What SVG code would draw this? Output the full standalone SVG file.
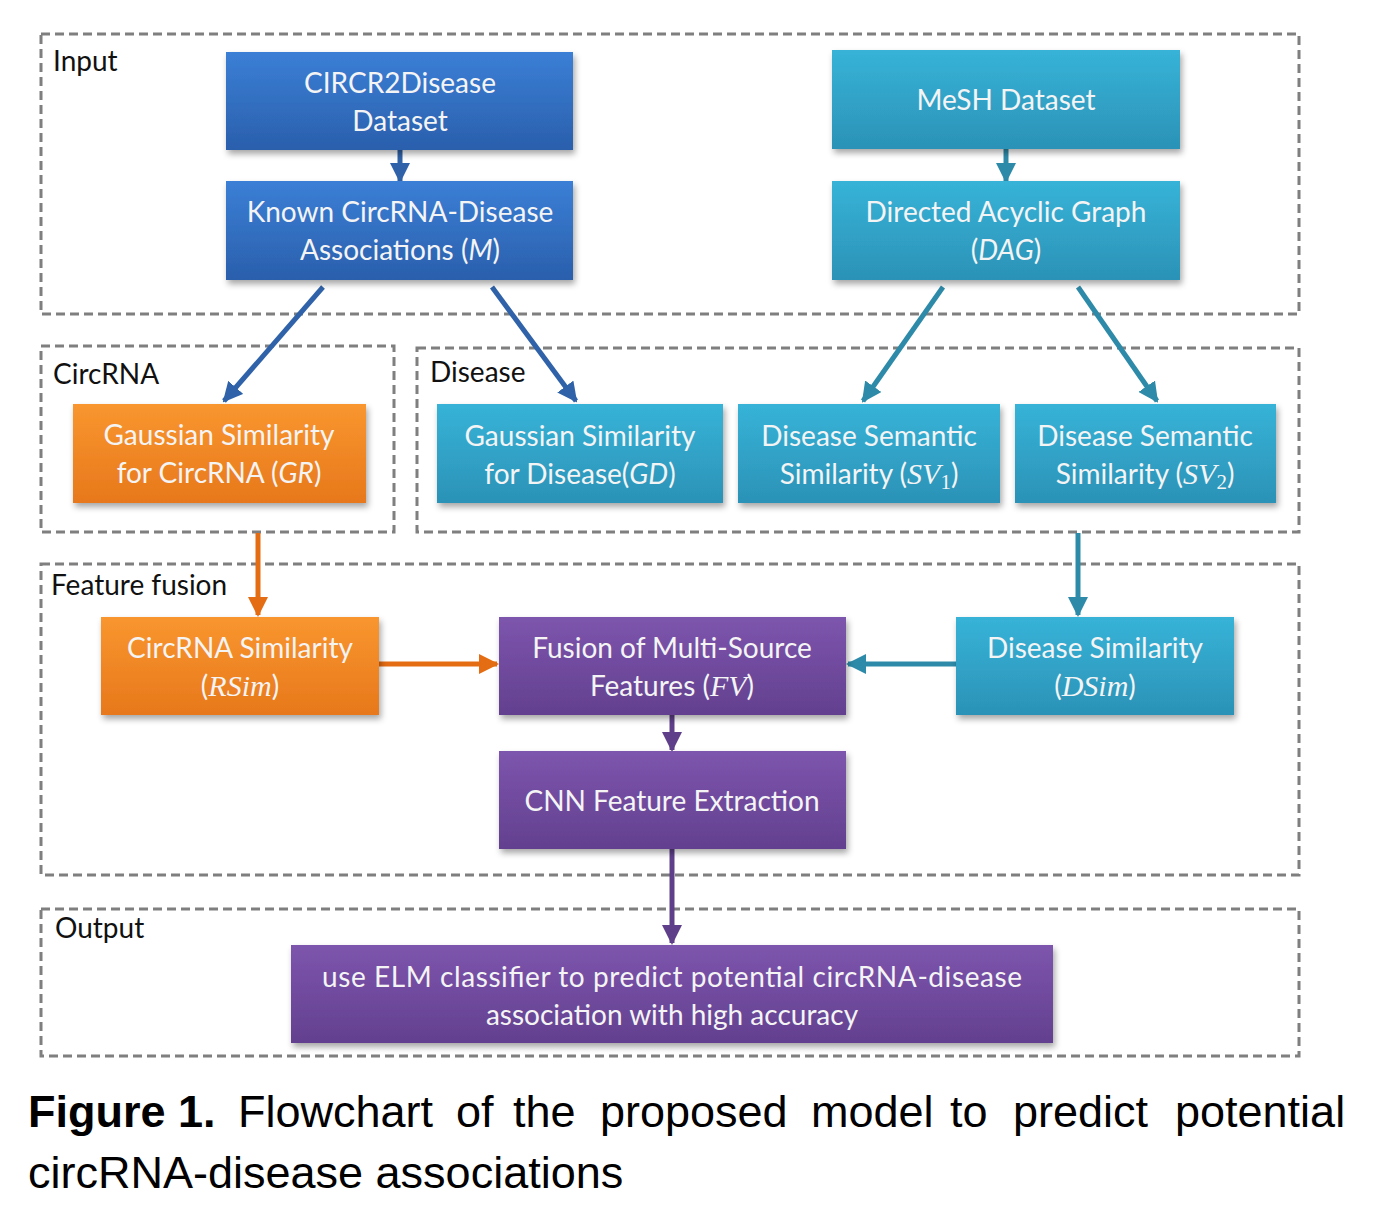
<svg xmlns="http://www.w3.org/2000/svg" width="1374" height="1214" viewBox="0 0 1374 1214">
<defs>
<linearGradient id="gBlue" x1="0" y1="0" x2="0" y2="1"><stop offset="0" stop-color="#3b7fd6"/><stop offset="1" stop-color="#2a5fac"/></linearGradient>
<linearGradient id="gTeal" x1="0" y1="0" x2="0" y2="1"><stop offset="0" stop-color="#37b3d8"/><stop offset="1" stop-color="#2b92b6"/></linearGradient>
<linearGradient id="gOrange" x1="0" y1="0" x2="0" y2="1"><stop offset="0" stop-color="#f9962f"/><stop offset="1" stop-color="#e7781b"/></linearGradient>
<linearGradient id="gPurple" x1="0" y1="0" x2="0" y2="1"><stop offset="0" stop-color="#7d55ad"/><stop offset="1" stop-color="#63408f"/></linearGradient>
<filter id="sh" x="-10%" y="-10%" width="120%" height="130%"><feDropShadow dx="2" dy="4" stdDeviation="3" flood-color="#000" flood-opacity="0.35"/></filter>
<marker id="aBlue" viewBox="0 0 10 10" refX="9" refY="5" markerWidth="4" markerHeight="4" orient="auto" markerUnits="strokeWidth"><path d="M0,0 L10,5 L0,10 z" fill="#2f62a8"/></marker>
<marker id="aTeal" viewBox="0 0 10 10" refX="9" refY="5" markerWidth="4" markerHeight="4" orient="auto" markerUnits="strokeWidth"><path d="M0,0 L10,5 L0,10 z" fill="#2d8aa8"/></marker>
<marker id="aOrange" viewBox="0 0 10 10" refX="9" refY="5" markerWidth="4" markerHeight="4" orient="auto" markerUnits="strokeWidth"><path d="M0,0 L10,5 L0,10 z" fill="#e46c13"/></marker>
<marker id="aPurple" viewBox="0 0 10 10" refX="9" refY="5" markerWidth="4" markerHeight="4" orient="auto" markerUnits="strokeWidth"><path d="M0,0 L10,5 L0,10 z" fill="#5f3f8a"/></marker>
</defs>
<style>
.grp{fill:none;stroke:#7f7f7f;stroke-width:3;stroke-dasharray:9,5}
.glab{font-family:Lato,"Open Sans",sans-serif;font-size:28px;fill:#111}
.nt{font-family:Lato,"Open Sans",sans-serif;font-size:28px;fill:#f4f4f4;text-anchor:middle}
.it{font-style:italic}
.m{font-family:"Liberation Serif",serif;font-style:italic;font-size:30px}
.c{stroke-width:5;fill:none}
.cap{font-family:"Liberation Sans",Arial,sans-serif;font-size:45px;fill:#000}
</style>
<rect width="1374" height="1214" fill="#fff"/>
<g id="groups">
<rect class="grp" x="41" y="34" width="1258" height="280"/>
<rect class="grp" x="41" y="346" width="353" height="186"/>
<rect class="grp" x="417" y="348" width="882" height="184"/>
<rect class="grp" x="41" y="564" width="1258" height="311"/>
<rect class="grp" x="41" y="909" width="1258" height="147"/>
<text class="glab" x="53" y="71">Input</text>
<text class="glab" x="53" y="384">CircRNA</text>
<text class="glab" x="430" y="382">Disease</text>
<text class="glab" x="51" y="595">Feature fusion</text>
<text class="glab" x="55" y="938">Output</text>
</g>
<g id="connectors">
<line class="c" x1="400" y1="150" x2="400" y2="181" stroke="#2f62a8" marker-end="url(#aBlue)"/>
<line class="c" x1="323" y1="287" x2="224" y2="401" stroke="#2f62a8" marker-end="url(#aBlue)"/>
<line class="c" x1="492" y1="287" x2="576" y2="401" stroke="#2f62a8" marker-end="url(#aBlue)"/>
<line class="c" x1="1006" y1="149" x2="1006" y2="181" stroke="#2d8aa8" marker-end="url(#aTeal)"/>
<line class="c" x1="943" y1="287" x2="863" y2="401" stroke="#2d8aa8" marker-end="url(#aTeal)"/>
<line class="c" x1="1078" y1="287" x2="1157" y2="401" stroke="#2d8aa8" marker-end="url(#aTeal)"/>
<line class="c" x1="258" y1="533" x2="258" y2="615" stroke="#e46c13" stroke-width="7" marker-end="url(#aOrange)"/>
<line class="c" x1="1078" y1="533" x2="1078" y2="615" stroke="#2d8aa8" stroke-width="7" marker-end="url(#aTeal)"/>
<line class="c" x1="379" y1="664" x2="497" y2="664" stroke="#e46c13" marker-end="url(#aOrange)"/>
<line class="c" x1="956" y1="664" x2="848" y2="664" stroke="#2d8aa8" marker-end="url(#aTeal)"/>
<line class="c" x1="672" y1="715" x2="672" y2="750" stroke="#5f3f8a" marker-end="url(#aPurple)"/>
<line class="c" x1="672" y1="849" x2="672" y2="943" stroke="#5f3f8a" marker-end="url(#aPurple)"/>
</g>
<g id="n-circr2disease"><rect x="226" y="52" width="347" height="98" fill="url(#gBlue)" filter="url(#sh)"/><text class="nt" x="400" y="93">CIRCR2Disease</text><text class="nt" x="400" y="131">Dataset</text></g>
<g id="n-known"><rect x="226" y="181" width="347" height="99" fill="url(#gBlue)" filter="url(#sh)"/><text class="nt" x="400" y="222">Known CircRNA-Disease</text><text class="nt" x="400" y="260">Associations (<tspan class="it">M</tspan>)</text></g>
<g id="n-mesh"><rect x="832" y="50" width="348" height="99" fill="url(#gTeal)" filter="url(#sh)"/><text class="nt" x="1006" y="110">MeSH Dataset</text></g>
<g id="n-dag"><rect x="832" y="181" width="348" height="99" fill="url(#gTeal)" filter="url(#sh)"/><text class="nt" x="1006" y="222">Directed Acyclic Graph</text><text class="nt" x="1006" y="260">(<tspan class="it">DAG</tspan>)</text></g>
<g id="n-gr"><rect x="73" y="404" width="293" height="99" fill="url(#gOrange)" filter="url(#sh)"/><text class="nt" x="219" y="445">Gaussian Similarity</text><text class="nt" x="219" y="483">for CircRNA (<tspan class="it">GR</tspan>)</text></g>
<g id="n-gd"><rect x="437" y="404" width="286" height="99" fill="url(#gTeal)" filter="url(#sh)"/><text class="nt" x="580" y="446">Gaussian Similarity</text><text class="nt" x="580" y="484">for Disease(<tspan class="it">GD</tspan>)</text></g>
<g id="n-sv1"><rect x="738" y="404" width="262" height="99" fill="url(#gTeal)" filter="url(#sh)"/><text class="nt" x="869" y="446">Disease Semantic</text><text class="nt" x="869" y="484">Similarity (<tspan class="m">SV</tspan><tspan font-family="Liberation Serif,serif" font-size="21" dy="5">1</tspan><tspan dy="-5">)</tspan></text></g>
<g id="n-sv2"><rect x="1015" y="404" width="261" height="99" fill="url(#gTeal)" filter="url(#sh)"/><text class="nt" x="1145" y="446">Disease Semantic</text><text class="nt" x="1145" y="484">Similarity (<tspan class="m">SV</tspan><tspan font-family="Liberation Serif,serif" font-size="21" dy="5">2</tspan><tspan dy="-5">)</tspan></text></g>
<g id="n-rsim"><rect x="101" y="617" width="278" height="98" fill="url(#gOrange)" filter="url(#sh)"/><text class="nt" x="240" y="658">CircRNA Similarity</text><text class="nt" x="240" y="696">(<tspan class="m">RSim</tspan>)</text></g>
<g id="n-fv"><rect x="499" y="617" width="347" height="98" fill="url(#gPurple)" filter="url(#sh)"/><text class="nt" x="672" y="658">Fusion of Multi-Source</text><text class="nt" x="672" y="696">Features (<tspan class="m">FV</tspan>)</text></g>
<g id="n-dsim"><rect x="956" y="617" width="278" height="98" fill="url(#gTeal)" filter="url(#sh)"/><text class="nt" x="1095" y="658">Disease Similarity</text><text class="nt" x="1095" y="696">(<tspan class="m">DSim</tspan>)</text></g>
<g id="n-cnn"><rect x="499" y="751" width="347" height="98" fill="url(#gPurple)" filter="url(#sh)"/><text class="nt" x="672" y="811">CNN Feature Extraction</text></g>
<g id="n-elm"><rect x="291" y="945" width="762" height="98" fill="url(#gPurple)" filter="url(#sh)"/><text class="nt" x="672" y="987" textLength="700" lengthAdjust="spacing">use ELM classifier to predict potential circRNA-disease</text><text class="nt" x="672" y="1025">association with high accuracy</text></g>
<g id="caption">
<text class="cap" y="1127"><tspan x="28" font-weight="bold">Figure 1.</tspan><tspan x="238">Flowchart</tspan><tspan x="456">of</tspan><tspan x="513">the</tspan><tspan x="600">proposed</tspan><tspan x="811">model</tspan><tspan x="950">to</tspan><tspan x="1013">predict</tspan><tspan x="1175">potential</tspan></text>
<text class="cap" x="28" y="1188">circRNA-disease associations</text>
</g>
</svg>
